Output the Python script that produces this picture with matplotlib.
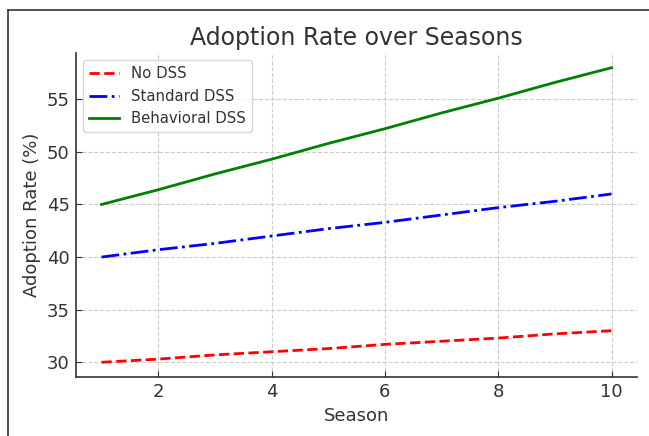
import matplotlib
matplotlib.use("Agg")
import matplotlib.pyplot as plt
from matplotlib.lines import Line2D

seasons = [1, 2, 3, 4, 5, 6, 7, 8, 9, 10]
no_dss = [30.0, 30.3, 30.7, 31.0, 31.3, 31.7, 32.0, 32.3, 32.7, 33.0]
standard_dss = [40.0, 40.7, 41.3, 42.0, 42.7, 43.3, 44.0, 44.7, 45.3, 46.0]
behavioral_dss = [45.0, 46.4, 47.9, 49.3, 50.8, 52.2, 53.7, 55.1, 56.6, 58.0]

txt = "#333333"
plt.rcParams['font.family'] = ['DejaVu Sans']

fig = plt.figure(figsize=(6.49, 4.36), dpi=100)
ax = fig.add_axes([76/649, 1-377/436, (637-76)/649, (377-53)/436])

ax.plot(seasons, no_dss, color="red", linestyle="--", linewidth=2, label="No DSS")
ax.plot(seasons, standard_dss, color="blue", linestyle="-.", linewidth=2, label="Standard DSS")
ax.plot(seasons, behavioral_dss, color="green", linestyle="-", linewidth=2, label="Behavioral DSS")

ax.set_xticks([2, 4, 6, 8, 10])
ax.set_yticks([30, 35, 40, 45, 50, 55])
ax.grid(True, linestyle="--", color="#cccccc", linewidth=0.8)
for s in ["top", "right"]:
    ax.spines[s].set_visible(False)
for s in ["left", "bottom"]:
    ax.spines[s].set_color(txt)
    ax.spines[s].set_linewidth(1.2)
ax.tick_params(colors=txt, labelsize=13, length=4, direction="in", pad=4.5)
ax.set_xlabel("Season", fontsize=13, color=txt)
ax.set_ylabel("Adoption Rate (%)", fontsize=13, color=txt)
ax.set_title("Adoption Rate over Seasons", fontsize=17, color=txt, pad=6)
leg = ax.legend(loc="upper left", fontsize=10.7, framealpha=0.8, edgecolor="#cccccc")
for t in leg.get_texts():
    t.set_color(txt)

fig.add_artist(Line2D([8/649, 1], [1-10/436, 1-10/436], transform=fig.transFigure, color=txt, linewidth=1.2))
fig.add_artist(Line2D([8/649, 8/649], [0, 1-10/436], transform=fig.transFigure, color=txt, linewidth=1.2))

fig.savefig("out.png", dpi=100)
